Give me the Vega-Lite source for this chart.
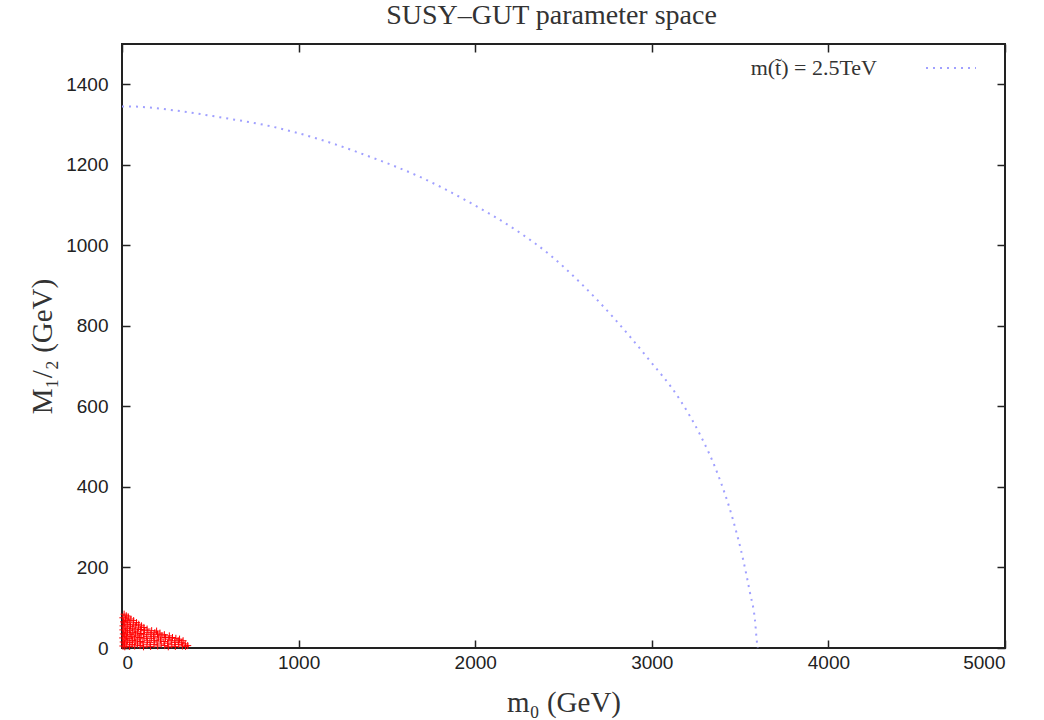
{
  "$schema": "https://vega.github.io/schema/vega-lite/v6.json",
  "width": 883,
  "height": 604,
  "autosize": "none",
  "padding": {"left": 122, "top": 44, "right": 39, "bottom": 72},
  "background": "white",
  "title": {"text": "SUSY–GUT parameter space", "font": "Liberation Serif", "fontSize": 28, "fontWeight": "normal", "color": "#333333", "offset": 12, "dx": -12},
  "datasets": {
    "pts": [
      {"m0": 5, "m12": 5}, {"m0": 7, "m12": 15}, {"m0": 4, "m12": 25}, {"m0": 8, "m12": 35}, {"m0": 5, "m12": 45}, {"m0": 6, "m12": 55}, {"m0": 9, "m12": 65}, {"m0": 5, "m12": 75}, {"m0": 12, "m12": 84},
      {"m0": 16, "m12": 3}, {"m0": 14, "m12": 12}, {"m0": 18, "m12": 22}, {"m0": 15, "m12": 32}, {"m0": 19, "m12": 42}, {"m0": 17, "m12": 52}, {"m0": 13, "m12": 62}, {"m0": 20, "m12": 72}, {"m0": 24, "m12": 80},
      {"m0": 27, "m12": 8}, {"m0": 30, "m12": 18}, {"m0": 26, "m12": 28}, {"m0": 31, "m12": 38}, {"m0": 28, "m12": 48}, {"m0": 33, "m12": 58}, {"m0": 29, "m12": 68}, {"m0": 36, "m12": 77},
      {"m0": 42, "m12": 4}, {"m0": 45, "m12": 14}, {"m0": 40, "m12": 24}, {"m0": 47, "m12": 34}, {"m0": 43, "m12": 44}, {"m0": 48, "m12": 54}, {"m0": 41, "m12": 64}, {"m0": 50, "m12": 72},
      {"m0": 57, "m12": 9}, {"m0": 60, "m12": 19}, {"m0": 55, "m12": 29}, {"m0": 62, "m12": 39}, {"m0": 58, "m12": 49}, {"m0": 63, "m12": 59}, {"m0": 66, "m12": 68},
      {"m0": 72, "m12": 5}, {"m0": 75, "m12": 15}, {"m0": 70, "m12": 25}, {"m0": 77, "m12": 35}, {"m0": 73, "m12": 45}, {"m0": 78, "m12": 55}, {"m0": 82, "m12": 63},
      {"m0": 88, "m12": 10}, {"m0": 86, "m12": 20}, {"m0": 91, "m12": 30}, {"m0": 87, "m12": 40}, {"m0": 93, "m12": 50}, {"m0": 95, "m12": 59},
      {"m0": 102, "m12": 6}, {"m0": 106, "m12": 16}, {"m0": 100, "m12": 26}, {"m0": 108, "m12": 36}, {"m0": 104, "m12": 46}, {"m0": 110, "m12": 55},
      {"m0": 122, "m12": 3}, {"m0": 118, "m12": 13}, {"m0": 125, "m12": 23}, {"m0": 121, "m12": 33}, {"m0": 127, "m12": 43}, {"m0": 124, "m12": 51},
      {"m0": 141, "m12": 8}, {"m0": 145, "m12": 18}, {"m0": 138, "m12": 28}, {"m0": 147, "m12": 38}, {"m0": 142, "m12": 47},
      {"m0": 162, "m12": 4}, {"m0": 158, "m12": 14}, {"m0": 166, "m12": 24}, {"m0": 160, "m12": 34}, {"m0": 168, "m12": 43},
      {"m0": 181, "m12": 9}, {"m0": 185, "m12": 19}, {"m0": 178, "m12": 29}, {"m0": 186, "m12": 38},
      {"m0": 202, "m12": 5}, {"m0": 198, "m12": 15}, {"m0": 206, "m12": 25}, {"m0": 201, "m12": 34}, {"m0": 196, "m12": 42},
      {"m0": 222, "m12": 10}, {"m0": 218, "m12": 20}, {"m0": 226, "m12": 30}, {"m0": 215, "m12": 37},
      {"m0": 242, "m12": 6}, {"m0": 238, "m12": 16}, {"m0": 246, "m12": 26}, {"m0": 240, "m12": 33},
      {"m0": 262, "m12": 3}, {"m0": 258, "m12": 12}, {"m0": 265, "m12": 22}, {"m0": 268, "m12": 30},
      {"m0": 282, "m12": 8}, {"m0": 278, "m12": 18}, {"m0": 286, "m12": 26},
      {"m0": 302, "m12": 4}, {"m0": 298, "m12": 14}, {"m0": 305, "m12": 24},
      {"m0": 321, "m12": 9}, {"m0": 318, "m12": 18}, {"m0": 326, "m12": 22},
      {"m0": 342, "m12": 5}, {"m0": 338, "m12": 13}, {"m0": 346, "m12": 18},
      {"m0": 360, "m12": 4}, {"m0": 358, "m12": 10}, {"m0": 372, "m12": 6}
    ],
    "curve": [
      {"m0": 0, "m12": 1345, "series": "m(t̃) = 2.5TeV"},
      {"m0": 28, "m12": 1345, "series": "m(t̃) = 2.5TeV"},
      {"m0": 300, "m12": 1335, "series": "m(t̃) = 2.5TeV"},
      {"m0": 555, "m12": 1318, "series": "m(t̃) = 2.5TeV"},
      {"m0": 838, "m12": 1296, "series": "m(t̃) = 2.5TeV"},
      {"m0": 1121, "m12": 1263, "series": "m(t̃) = 2.5TeV"},
      {"m0": 1404, "m12": 1220, "series": "m(t̃) = 2.5TeV"},
      {"m0": 1687, "m12": 1170, "series": "m(t̃) = 2.5TeV"},
      {"m0": 1954, "m12": 1110, "series": "m(t̃) = 2.5TeV"},
      {"m0": 2237, "m12": 1036, "series": "m(t̃) = 2.5TeV"},
      {"m0": 2424, "m12": 976, "series": "m(t̃) = 2.5TeV"},
      {"m0": 2593, "m12": 908, "series": "m(t̃) = 2.5TeV"},
      {"m0": 2780, "m12": 822, "series": "m(t̃) = 2.5TeV"},
      {"m0": 2973, "m12": 722, "series": "m(t̃) = 2.5TeV"},
      {"m0": 3160, "m12": 616, "series": "m(t̃) = 2.5TeV"},
      {"m0": 3273, "m12": 530, "series": "m(t̃) = 2.5TeV"},
      {"m0": 3369, "m12": 437, "series": "m(t̃) = 2.5TeV"},
      {"m0": 3460, "m12": 318, "series": "m(t̃) = 2.5TeV"},
      {"m0": 3517, "m12": 220, "series": "m(t̃) = 2.5TeV"},
      {"m0": 3556, "m12": 137, "series": "m(t̃) = 2.5TeV"},
      {"m0": 3584, "m12": 70, "series": "m(t̃) = 2.5TeV"},
      {"m0": 3596, "m12": 12, "series": "m(t̃) = 2.5TeV"},
      {"m0": 3600, "m12": 0, "series": "m(t̃) = 2.5TeV"}
    ]
  },
  "config": {
    "view": {"stroke": "#222222", "strokeWidth": 2},
    "axis": {
      "grid": false,
      "domain": false,
      "tickColor": "#222222",
      "tickSize": -8,
      "tickWidth": 1.5,
      "format": "d",
      "labelFont": "Liberation Sans",
      "labelFontSize": 19,
      "labelColor": "#222222",
      "titleFont": "Liberation Serif",
      "titleFontSize": 29,
      "titleFontWeight": "normal",
      "titleColor": "#333333"
    }
  },
  "layer": [
    {
      "data": {"name": "pts"},
      "mark": {"type": "point", "shape": "M-1,0L1,0M0,-1L0,1", "filled": false, "stroke": "#ff0000", "strokeWidth": 1, "size": 50, "opacity": 1},
      "encoding": {
        "x": {"field": "m0", "type": "quantitative", "scale": {"domain": [0, 5000], "nice": false},
              "axis": {"orient": "bottom", "values": [0, 1000, 2000, 3000, 4000, 5000], "labelPadding": 13, "title": "m₀ (GeV)", "titlePadding": 16}},
        "y": {"field": "m12", "type": "quantitative", "scale": {"domain": [0, 1500], "nice": false},
              "axis": {"orient": "left", "values": [0, 200, 400, 600, 800, 1000, 1200, 1400], "labelPadding": 22, "title": "M₁/₂ (GeV)", "titlePadding": 8}}
      }
    },
    {
      "data": {"name": "curve"},
      "mark": {"type": "line", "strokeDash": [2, 5], "strokeWidth": 2, "interpolate": "monotone"},
      "encoding": {
        "x": {"field": "m0", "type": "quantitative",
              "axis": {"orient": "top", "values": [0, 1000, 2000, 3000, 4000, 5000], "labels": false, "title": null}},
        "y": {"field": "m12", "type": "quantitative",
              "axis": {"orient": "right", "values": [0, 200, 400, 600, 800, 1000, 1200, 1400], "labels": false, "title": null}},
        "color": {"field": "series", "type": "nominal", "scale": {"range": ["#a0a0ff"]},
                  "legend": {"orient": "none", "legendX": 803, "legendY": -2, "title": null, "padding": 0,
                             "symbolType": "stroke", "symbolSize": 2500, "symbolStrokeWidth": 2, "symbolDash": [2, 5],
                             "labelAlign": "right", "labelOffset": -100, "labelFont": "Liberation Serif", "labelFontSize": 22, "labelColor": "#333333"}}
      }
    }
  ],
  "resolve": {"axis": {"x": "independent", "y": "independent"}}
}
